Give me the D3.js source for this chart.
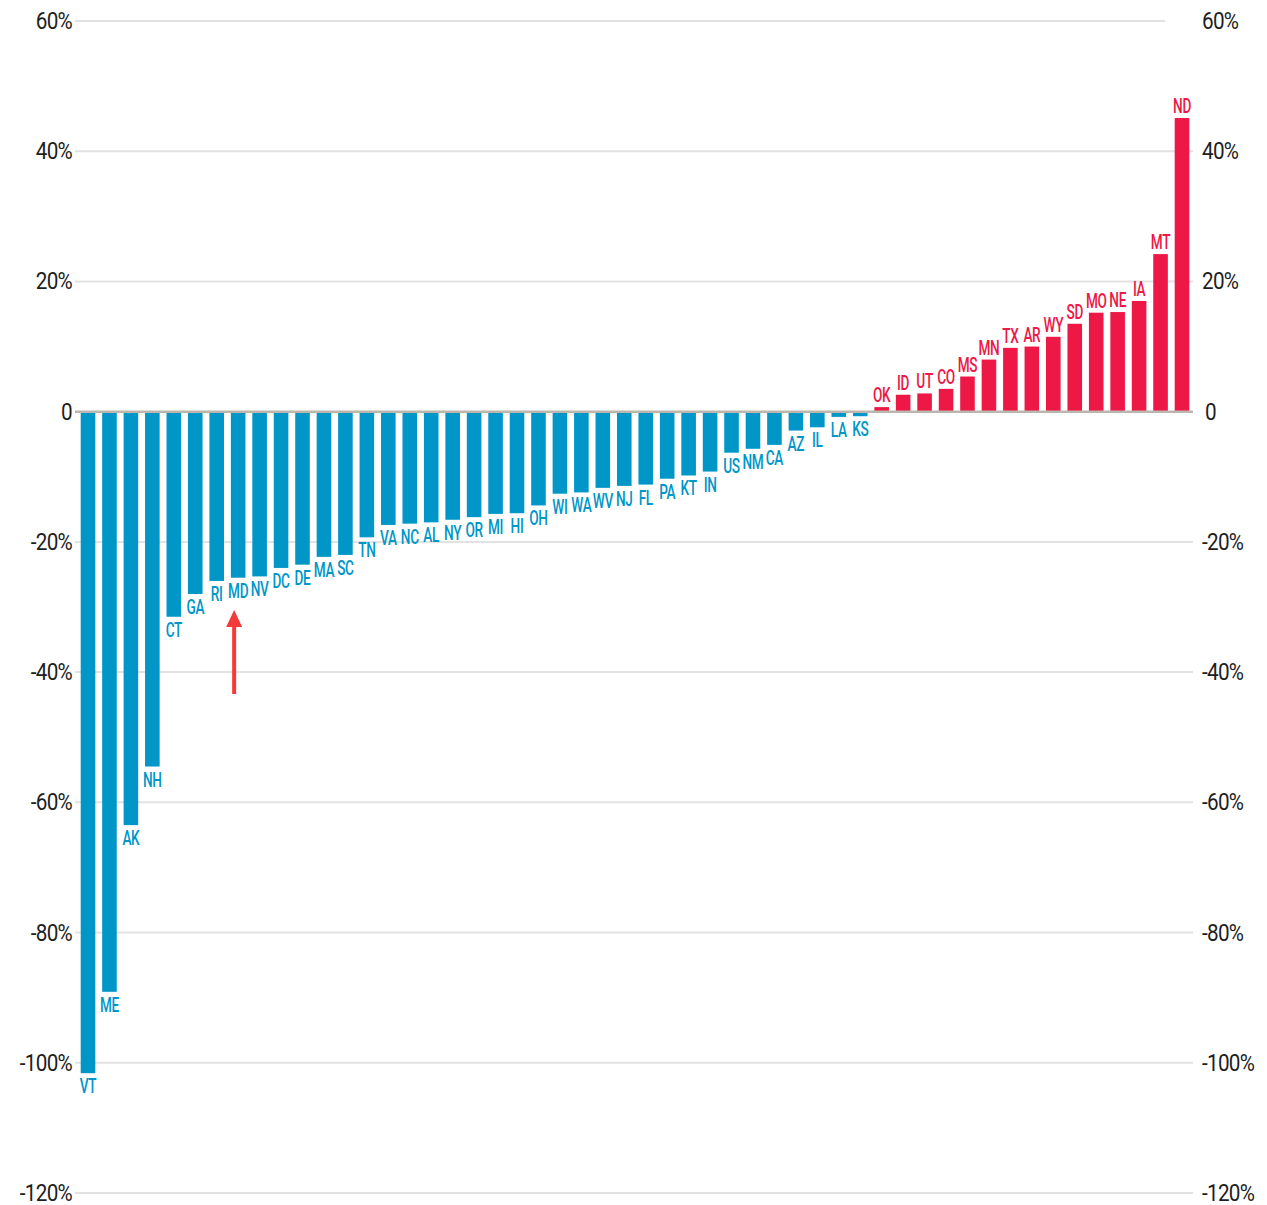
<!DOCTYPE html>
<html><head><meta charset="utf-8">
<script src="https://cdn.jsdelivr.net/npm/d3@7"></script>
<style>body{margin:0;background:#fff}svg{display:block}</style>
</head><body>
<svg id="c" width="1267" height="1205"></svg>
<script>
const states = ["VT","ME","AK","NH","CT","GA","RI","MD","NV","DC","DE","MA","SC","TN","VA","NC","AL","NY","OR","MI","HI","OH","WI","WA","WV","NJ","FL","PA","KT","IN","US","NM","CA","AZ","IL","LA","KS","OK","ID","UT","CO","MS","MN","TX","AR","WY","SD","MO","NE","IA","MT","ND"];
const values = [-101.6,-89.1,-63.5,-54.5,-31.5,-28.0,-26.0,-25.5,-25.3,-24.0,-23.5,-22.3,-22.0,-19.3,-17.4,-17.2,-17.0,-16.6,-16.2,-15.7,-15.6,-14.4,-12.6,-12.4,-11.7,-11.4,-11.2,-10.3,-9.8,-9.2,-6.3,-5.7,-5.1,-2.9,-2.4,-0.8,-0.7,0.7,2.6,2.8,3.5,5.4,8.0,9.8,10.0,11.5,13.5,15.2,15.3,17.0,24.2,45.1];
const ticks = [60,40,20,0,-20,-40,-60,-80,-100,-120];
const tickLabels = ["60%","40%","20%","0","-20%","-40%","-60%","-80%","-100%","-120%"];
const highlight = "MD";

const svg = d3.select("#c");
const y = d3.scaleLinear().domain([-120,60]).range([1193,21]);
const x = d3.scalePoint().domain(states).range([88,1182]);
const bw = x.step()*0.68;
const blue = "#0096c8", red = "#ed1846";

// gridlines
ticks.forEach((t,i)=>{
  if(t===0) return;
  svg.append("line").attr("x1",75).attr("x2",t===60?1165:1193)
    .attr("y1",y(t)).attr("y2",y(t)).attr("stroke","#e2e2e2").attr("stroke-width",2);
});

// axis labels
const lab = (xx,yy,txt,anchor)=>{
  svg.append("text").attr("transform",`translate(${xx},${yy}) scale(0.9,1)`)
    .attr("text-anchor",anchor).attr("font-family","Roboto, Liberation Sans, Arial, sans-serif")
    .attr("font-size",23).attr("letter-spacing",-0.8).attr("fill","#1e1e1e").text(txt);
};
ticks.forEach((t,i)=>{
  lab(72, y(t)+8, tickLabels[i], "end");
  lab(t===0?1205:1202, y(t)+8, tickLabels[i], "start");
});

// bars
const data = states.map((s,i)=>({s,v:values[i]}));
svg.selectAll("rect.bar").data(data).join("rect").attr("class","bar")
  .attr("x",d=>x(d.s)-bw/2).attr("width",bw)
  .attr("y",d=>y(Math.max(0,d.v))).attr("height",d=>Math.abs(y(d.v)-y(0)))
  .attr("fill",d=>d.v<0?blue:red);

// zero line
svg.append("line").attr("x1",75).attr("x2",1193).attr("y1",y(0)).attr("y2",y(0))
  .attr("stroke","#bdb6ae").attr("stroke-width",2.5);

// bar labels
svg.selectAll("text.bl").data(data).join("text").attr("class","bl")
  .attr("transform",d=>`translate(${x(d.s)},${d.v<0?y(d.v)+20:y(d.v)-5}) scale(0.7,1)`)
  .attr("text-anchor","middle").attr("font-family","Roboto, Liberation Sans, Arial, sans-serif")
  .attr("font-weight",500).attr("letter-spacing",-0.5)
  .attr("font-size",19.5).attr("fill",d=>d.v<0?blue:red).text(d=>d.s);

// arrow
const ax = x(highlight)-4;
svg.append("rect").attr("x",ax-2).attr("y",624).attr("width",4).attr("height",70).attr("fill","#f53a3a");
svg.append("path").attr("d",`M${ax},610 L${ax+8},627 L${ax-8},627 Z`).attr("fill","#f53a3a");
</script>
</body></html>
